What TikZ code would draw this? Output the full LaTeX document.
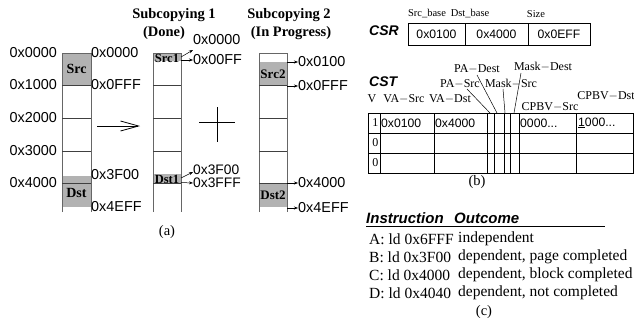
\documentclass[tikz,border=0pt]{standalone}
\usepackage{fontspec}
\setmainfont{Liberation Serif}
\setsansfont{Liberation Sans}
\usetikzlibrary{arrows.meta}
\begin{document}
\begin{tikzpicture}[x=1pt,y=-1pt,
  addr/.style={font=\sffamily\fontsize{14.4}{14.4}\selectfont, inner sep=0pt},
  taddr/.style={font=\sffamily\fontsize{12.2}{12.2}\selectfont, inner sep=0pt},
  btitle/.style={font=\bfseries\fontsize{14.5}{14.5}\selectfont, inner sep=0pt},
  blab/.style={font=\bfseries\fontsize{14}{14}\selectfont, inner sep=0pt},
  slab/.style={font=\bfseries\fontsize{12.5}{12.5}\selectfont, inner sep=0pt},
  hdr/.style={font=\fontsize{12}{12}\selectfont, inner sep=0pt},
  shdr/.style={font=\fontsize{10.5}{10.5}\selectfont, inner sep=0pt},
  capt/.style={font=\fontsize{14.5}{14.5}\selectfont, inner sep=0pt},
  lst/.style={font=\fontsize{15.5}{15.5}\selectfont, inner sep=0pt, anchor=west},
  bis/.style={font=\sffamily\bfseries\itshape\fontsize{14}{14}\selectfont, inner sep=0pt},
  bish/.style={font=\sffamily\bfseries\itshape\fontsize{15}{15}\selectfont, inner sep=0pt},
  fillg/.style={fill=black!30},
  colline/.style={draw=black!60, line width=0.9pt},
  hline/.style={draw=black!75, line width=0.9pt},
  tline/.style={draw=black, line width=0.7pt},
  sarr/.style={-{Stealth[length=4pt,width=3pt]}, line width=0.5pt},
  lead/.style={draw=black, line width=0.5pt}
]
\useasboundingbox (0,0) rectangle (634,324);
% ---------- titles ----------
\node[btitle] (t1) at (174,15) {Subcopying 1};
\node[btitle] (t1b) at (164,33) {(Done)};
\node[btitle] (t2) at (289,15) {Subcopying 2};
\node[btitle] (t2b) at (291,33) {(In Progress)};
% ---------- column A ----------
\fill[fillg] (62,53) rectangle (91,85);
\fill[fillg] (62,176) rectangle (91,207);
\draw[colline] (62,212) -- (62,53) -- (91,53) -- (91,212);
\foreach \y in {85,118,151,183} \draw[hline] (62,\y) -- (91,\y);
\node[blab] (src) at (76.5,69) {Src};
\node[blab] (dst) at (76.5,193) {Dst};
\node[addr,anchor=east] (la0) at (57,53) {0x0000};
\node[addr,anchor=east] (la1) at (57,85) {0x1000};
\node[addr,anchor=east] (la2) at (57,118) {0x2000};
\node[addr,anchor=east] (la3) at (57,151) {0x3000};
\node[addr,anchor=east] (la4) at (57,183) {0x4000};
\node[addr,anchor=west] (ra0) at (91,53) {0x0000};
\node[addr,anchor=west] (ra1) at (91,85) {0x0FFF};
\node[addr,anchor=west] (ra2) at (91,175) {0x3F00};
\node[addr,anchor=west] (ra3) at (91,207) {0x4EFF};
% big arrow
\coordinate (ba1) at (97,126);
\coordinate (ba2) at (140,126);
\draw[-{Straight Barb[length=18pt,width=10pt]}, line width=0.8pt] (ba1) -- (ba2);
% ---------- column B ----------
\fill[fillg] (153,53) rectangle (181,61);
\fill[fillg] (153,174) rectangle (181,183);
\draw[colline] (153,212) -- (153,53) -- (181,53) -- (181,212);
\foreach \y in {85,118,151,183} \draw[hline] (153,\y) -- (181,\y);
\node[slab] (src1) at (167,58) {Src1};
\node[slab] (dst1) at (167,179) {Dst1};
\node[addr,anchor=west] (b0) at (193,40) {0x0000};
\node[addr,anchor=west] (b1) at (193,60) {0x00FF};
\node[addr,anchor=west,font=\sffamily\fontsize{13.8}{13.8}\selectfont] (b2) at (193,169.5) {0x3F00};
\node[addr,anchor=west,font=\sffamily\fontsize{13.8}{13.8}\selectfont] (b3) at (193,183) {0x3FFF};
\coordinate (bs0) at (181,57);
\coordinate (bs1) at (181,60);
\coordinate (bs2) at (181,178);
\coordinate (bs3) at (181,182.5);
\coordinate (be0) at (193,50);
\coordinate (be2) at (193,172);
\draw[sarr] (bs0) -- (be0);
\draw[sarr] (bs1) -- (b1.west);
\draw[sarr] (bs2) -- (be2);
\draw[sarr] (bs3) -- (b3.west);
% plus
\coordinate (p1) at (199,122); \coordinate (p2) at (235,122);
\coordinate (p3) at (217,107); \coordinate (p4) at (217,142);
\draw[line width=0.9pt] (p1) -- (p2);
\draw[line width=0.9pt] (p3) -- (p4);
% ---------- column C ----------
\fill[fillg] (259,62) rectangle (287,85);
\fill[fillg] (259,183) rectangle (287,207);
\draw[colline] (259,212) -- (259,53) -- (287,53) -- (287,212);
\foreach \y in {85,118,151,183} \draw[hline] (259,\y) -- (287,\y);
\node[slab,font=\bfseries\fontsize{13}{13}\selectfont] (src2) at (273,74) {Src2};
\node[slab,font=\bfseries\fontsize{13}{13}\selectfont] (dst2) at (273,195) {Dst2};
\node[addr,anchor=west] (c0) at (298,62) {0x0100};
\node[addr,anchor=west] (c1) at (298,86) {0x0FFF};
\node[addr,anchor=west] (c2) at (298,183) {0x4000};
\node[addr,anchor=west] (c3) at (298,208) {0x4EFF};
\coordinate (cs0) at (287,62);
\coordinate (cs1) at (287,86);
\coordinate (cs2) at (287,183);
\coordinate (cs3) at (287,208);
\draw[sarr] (cs0) -- (c0.west);
\draw[sarr] (cs1) -- (c1.west);
\draw[sarr] (cs2) -- (c2.west);
\draw[sarr] (cs3) -- (c3.west);
\node[capt] (capa) at (167,232) {(a)};
% ---------- CSR ----------
\node[bis,anchor=west] (csr) at (369,31) {CSR};
\draw[tline] (408,23) rectangle (590,45);
\draw[tline] (465,23) -- (465,45);
\draw[tline] (528,23) -- (528,45);
\node[taddr] (v1) at (436.5,34) {0x0100};
\node[taddr] (v2) at (496.5,34) {0x4000};
\node[taddr] (v3) at (559,34) {0x0EFF};
\node[shdr] (sb) at (427,14) {Src\_base};
\node[shdr] (db) at (470,14) {Dst\_base};
\node[shdr] (sz) at (536,14) {Size};
% ---------- CST ----------
\node[bis,anchor=west] (cst) at (369,82) {CST};
\draw[tline] (368,113) rectangle (633,173);
\foreach \y in {133,153} \draw[tline] (368,\y) -- (633,\y);
\foreach \x in {380,434,487,494,504,510,519,576} \draw[tline] (\x,113) -- (\x,173);
\node[hdr] (hv) at (372,99) {V};
\node[hdr] (hvs) at (404,99) {VA$-$Src};
\node[hdr] (hvd) at (450,99) {VA$-$Dst};
\node[hdr] (hpd) at (477,69) {PA$-$Dest};
\node[hdr] (hmd) at (543,67) {Mask$-$Dest};
\node[hdr] (hps) at (460,84) {PA$-$Src};
\node[hdr] (hms) at (511,84) {Mask$-$Src};
\node[hdr] (hcs) at (550,107) {CPBV$-$Src};
\node[hdr] (hcd) at (606,96) {CPBV$-$Dst};
\coordinate (s1) at (467,89);
\coordinate (s2) at (477,75);
\coordinate (s3) at (503,89);
\coordinate (s4) at (521,73);
\coordinate (e1) at (490,113);
\coordinate (e2) at (497,113);
\coordinate (e3) at (505,113);
\coordinate (e4) at (514,113);
\draw[lead] (s1) -- (e1);
\draw[lead] (s2) -- (e2);
\draw[lead] (s3) -- (e3);
\draw[lead] (s4) -- (e4);
\node[hdr,anchor=east] (r1v) at (378.5,123) {1};
\node[taddr,anchor=west] (r1a) at (381,123) {0x0100};
\node[taddr,anchor=west] (r1b) at (435,123) {0x4000};
\node[taddr,anchor=west] (r1c) at (520,123) {0000...};
\node[taddr,anchor=west] (r1d) at (578,123) {\underline{1}000...};
\node[hdr,anchor=east] (r2v) at (378.5,143) {0};
\node[hdr,anchor=east] (r3v) at (378.5,163) {0};
\node[capt] (capb) at (477,182) {(b)};
% ---------- Instruction list ----------
\node[bish,anchor=west] (ih) at (366,218) {Instruction};
\node[bish,anchor=west] (oh) at (454,218) {Outcome};
\coordinate (u1) at (366,226.5); \coordinate (u2) at (605,226.5);
\draw[line width=0.7pt] (u1) -- (u2);
\node[lst] (ia) at (369,239) {A: ld 0x6FFF};
\node[lst] (ib) at (369,257) {B: ld 0x3F00};
\node[lst] (ic) at (369,275) {C: ld 0x4000};
\node[lst] (id) at (369,293) {D: ld 0x4040};
\node[lst] (oa) at (458,239) {independent};
\node[lst] (ob) at (458,257) {dependent, page completed};
\node[lst] (oc) at (458,275) {dependent, block completed};
\node[lst] (od) at (458,293) {dependent, not completed};
\node[capt] (capc) at (484,312) {(c)};
\end{tikzpicture}
\end{document}
